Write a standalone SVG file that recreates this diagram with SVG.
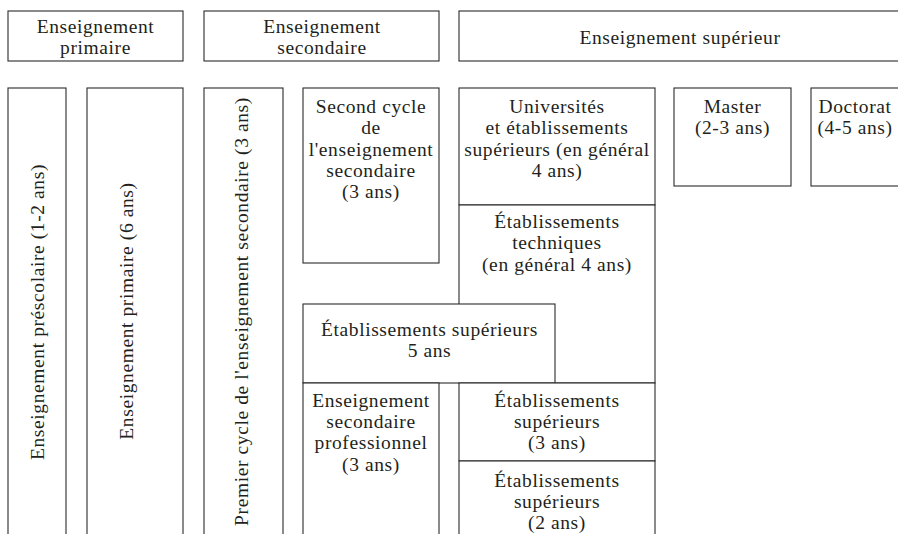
<svg xmlns="http://www.w3.org/2000/svg" width="898" height="534" viewBox="0 0 898 534">
<style>
rect { fill: #ffffff; stroke: #2a2a2a; stroke-width: 1.1; }
text { font-family: "Liberation Serif", "Times New Roman", serif; font-size: 19.5px; letter-spacing: 0.6px; fill: #231f20; text-anchor: middle; }
</style>
<rect x="0" y="0" width="898" height="534" style="stroke:none"/>
<g id="connectors"/>
<g id="top-primaire">
<rect x="8" y="11" width="175" height="50"/>
<text><tspan x="95.5" y="32.5">Enseignement</tspan><tspan x="95.5" y="53.5">primaire</tspan></text>
</g>
<g id="top-secondaire">
<rect x="204" y="11" width="235" height="50"/>
<text><tspan x="322" y="32.5">Enseignement</tspan><tspan x="322" y="53.5">secondaire</tspan></text>
</g>
<g id="top-superieur">
<rect x="459" y="11" width="460" height="50"/>
<text x="680" y="43.5">Enseignement supérieur</text>
</g>
<g id="col-prescolaire">
<rect x="8" y="88" width="58" height="460"/>
<text transform="translate(43.5,312) rotate(-90)">Enseignement préscolaire (1-2 ans)</text>
</g>
<g id="col-primaire">
<rect x="87" y="88" width="96" height="460"/>
<text transform="translate(132.5,311) rotate(-90)">Enseignement primaire (6 ans)</text>
</g>
<g id="col-premier-cycle">
<rect x="204" y="88" width="79" height="460"/>
<text transform="translate(248,311.5) rotate(-90)">Premier cycle de l'enseignement secondaire (3 ans)</text>
</g>
<g id="second-cycle">
<rect x="303" y="88" width="136" height="175"/>
<text><tspan x="371" y="113">Second cycle</tspan><tspan x="371" y="134.3">de</tspan><tspan x="371" y="155.6">l'enseignement</tspan><tspan x="371" y="176.9">secondaire</tspan><tspan x="371" y="198.2">(3 ans)</tspan></text>
</g>
<g id="universites">
<rect x="459" y="88" width="196" height="117"/>
<text><tspan x="557" y="113">Universités</tspan><tspan x="557" y="134.3">et établissements</tspan><tspan x="557" y="155.6">supérieurs (en général</tspan><tspan x="557" y="176.9">4 ans)</tspan></text>
</g>
<g id="etab-techniques">
<rect x="459" y="205" width="196" height="178"/>
<text><tspan x="557" y="228">Établissements</tspan><tspan x="557" y="249.3">techniques</tspan><tspan x="557" y="270.6">(en général 4 ans)</tspan></text>
</g>
<g id="master">
<rect x="674" y="88" width="117" height="98"/>
<text><tspan x="732.5" y="113">Master</tspan><tspan x="732.5" y="134.3">(2-3 ans)</tspan></text>
</g>
<g id="doctorat">
<rect x="811" y="88" width="120" height="98"/>
<text><tspan x="855" y="113">Doctorat</tspan><tspan x="855" y="134.3">(4-5 ans)</tspan></text>
</g>
<g id="etab-sup-5ans">
<rect x="303" y="304" width="252" height="79"/>
<text><tspan x="429.5" y="336">Établissements supérieurs</tspan><tspan x="429.5" y="357.3">5 ans</tspan></text>
</g>
<g id="sec-professionnel">
<rect x="303" y="383" width="136" height="170"/>
<text><tspan x="371" y="406.7">Enseignement</tspan><tspan x="371" y="428">secondaire</tspan><tspan x="371" y="449.3">professionnel</tspan><tspan x="371" y="470.6">(3 ans)</tspan></text>
</g>
<g id="etab-sup-3ans">
<rect x="459" y="383" width="196" height="78"/>
<text><tspan x="557" y="406.7">Établissements</tspan><tspan x="557" y="428">supérieurs</tspan><tspan x="557" y="449.3">(3 ans)</tspan></text>
</g>
<g id="etab-sup-2ans">
<rect x="459" y="461" width="196" height="90"/>
<text><tspan x="557" y="486.7">Établissements</tspan><tspan x="557" y="508">supérieurs</tspan><tspan x="557" y="529.3">(2 ans)</tspan></text>
</g>
</svg>
